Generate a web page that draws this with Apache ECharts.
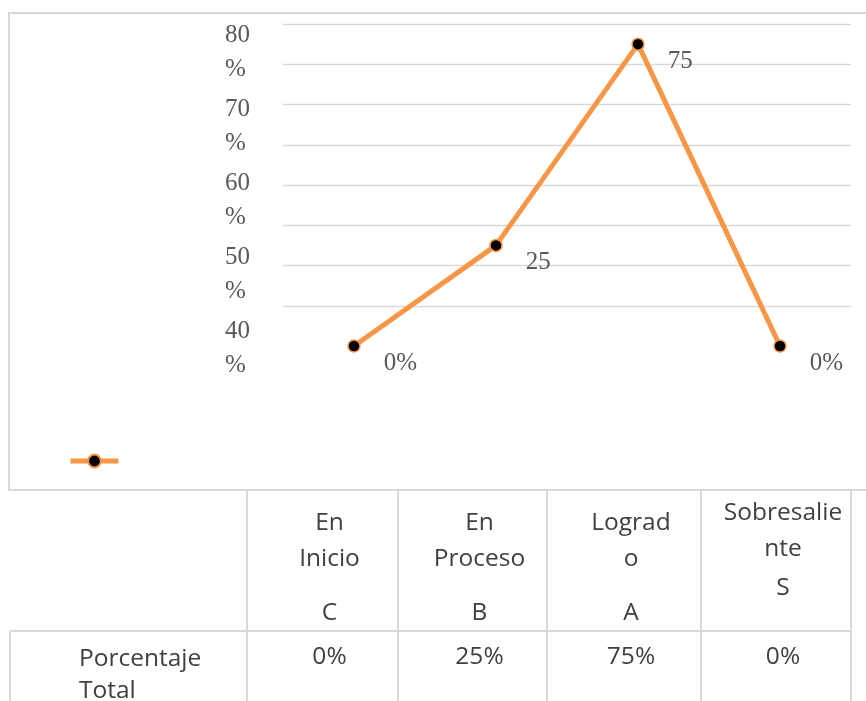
<!DOCTYPE html>
<html>
<head>
<meta charset="utf-8">
<script src="https://cdn.jsdelivr.net/npm/echarts@6/dist/echarts.min.js"></script>
<style>
html,body{margin:0;padding:0;background:#fff;}
#chart{width:866px;height:701px;}
</style>
</head>
<body>
<div id="chart"></div>
<script>
// ---- data ----
const categories = ['En Inicio', 'En Proceso', 'Logrado', 'Sobresaliente'];
const headerLines = [['En', 'Inicio'], ['En', 'Proceso'], ['Lograd', 'o'], ['Sobresalie', 'nte']];
const levelCodes = ['C', 'B', 'A', 'S'];
const values = [0, 25, 75, 0];
const pointLabels = ['0%', '25', '75', '0%'];
const tableValues = ['0%', '25%', '75%', '0%'];
const rowLabelLines = ['Porcentaje', 'Total'];
const yTickValues = [40, 50, 60, 70, 80];
const yTickSuffix = '%';

// ---- styles / layout ----
const ORANGE = '#F79646';
const GRIDC = '#d9d9d9';
const LABELC = '#595959';
const TABLEC = '#404040';
const serif = '"Liberation Serif", "Times New Roman", serif';
const sans = '"Open Sans", "Noto Sans", sans-serif';

const colEdges = [247, 398, 547, 701, 851];
const tableTop = 490, rowSplit = 631, tableBottom = 701;

const graphics = [];
// chart outer border
graphics.push({type: 'rect', silent: true, shape: {x: 9, y: 13, width: 900, height: 477},
  style: {fill: 'none', stroke: GRIDC, lineWidth: 2}});
// table lines
colEdges.forEach(x => graphics.push({type: 'line', silent: true,
  shape: {x1: x, y1: tableTop, x2: x, y2: tableBottom}, style: {stroke: GRIDC, lineWidth: 2}}));
graphics.push({type: 'line', silent: true, shape: {x1: 10, y1: rowSplit, x2: colEdges[4], y2: rowSplit},
  style: {stroke: GRIDC, lineWidth: 2}});
graphics.push({type: 'line', silent: true, shape: {x1: 10, y1: rowSplit, x2: 10, y2: tableBottom},
  style: {stroke: GRIDC, lineWidth: 2}});

function txt(t, x, y, align) {
  return {type: 'text', silent: true, style: {text: t, x: x, y: y, fill: TABLEC,
    font: '24.5px ' + sans, align: align || 'center', verticalAlign: 'middle',
    textAlign: align || 'center', textVerticalAlign: 'middle'}};
}
categories.forEach((c, i) => {
  const cx = (colEdges[i] + colEdges[i + 1]) / 2 + 7;
  const wrapped3 = headerLines[i].length > 1 && headerLines[i][0].length > 8;
  const y0 = wrapped3 ? 513 : 523;
  const codeY = wrapped3 ? 588 : 613;
  headerLines[i].forEach((l, k) => graphics.push(txt(l, cx, y0 + k * 36)));
  graphics.push(txt(levelCodes[i], cx, codeY));
  graphics.push(txt(tableValues[i], cx, 657));
});
rowLabelLines.forEach((l, k) => graphics.push(txt(l, 79, 659 + k * 32, 'left')));

const option = {
  animation: false,
  backgroundColor: '#fff',
  grid: [
    {left: 283, right: 15, top: 24, bottom: 355},
    {left: 225, right: 15, top: 52.5, bottom: 353}
  ],
  legend: {
    left: 63, top: 448, itemWidth: 48, itemHeight: 16, padding: 5,
    lineStyle: {width: 5},
    formatter: () => '', data: ['Porcentaje Total'], selectedMode: false
  },
  xAxis: [
    {type: 'category', gridIndex: 0, data: categories, boundaryGap: true,
      axisLine: {show: false}, axisTick: {show: false}, axisLabel: {show: false}},
    {type: 'category', gridIndex: 1, data: categories, show: false}
  ],
  yAxis: [
    {type: 'value', gridIndex: 0, min: 0, max: 80, interval: 10,
      axisLine: {show: false}, axisTick: {show: false}, axisLabel: {show: false},
      splitLine: {show: true, showMinLine: false, lineStyle: {color: GRIDC, width: 1.4}}},
    {type: 'value', gridIndex: 1, min: yTickValues[0], max: yTickValues[yTickValues.length - 1], interval: 10,
      axisLine: {show: false}, axisTick: {show: false}, splitLine: {show: false},
      axisLabel: {show: true, inside: false, margin: 0, align: 'left',
        formatter: v => v + '\n' + yTickSuffix, lineHeight: 34,
        fontFamily: serif, fontSize: 25, color: LABELC}}
  ],
  series: [{
    name: 'Porcentaje Total',
    type: 'line',
    xAxisIndex: 0, yAxisIndex: 0,
    data: values,
    symbol: 'circle', symbolSize: 12,
    lineStyle: {color: ORANGE, width: 5},
    itemStyle: {color: '#000', borderColor: ORANGE, borderWidth: 1.5},
    label: {show: true, position: 'right', distance: 23, offset: [0, 17],
      formatter: p => pointLabels[p.dataIndex],
      fontFamily: serif, fontSize: 25, color: LABELC},
    z: 5
  }],
  graphic: graphics
};

const chart = echarts.init(document.getElementById('chart'), null, {renderer: 'canvas'});
chart.setOption(option);
</script>
</body>
</html>
